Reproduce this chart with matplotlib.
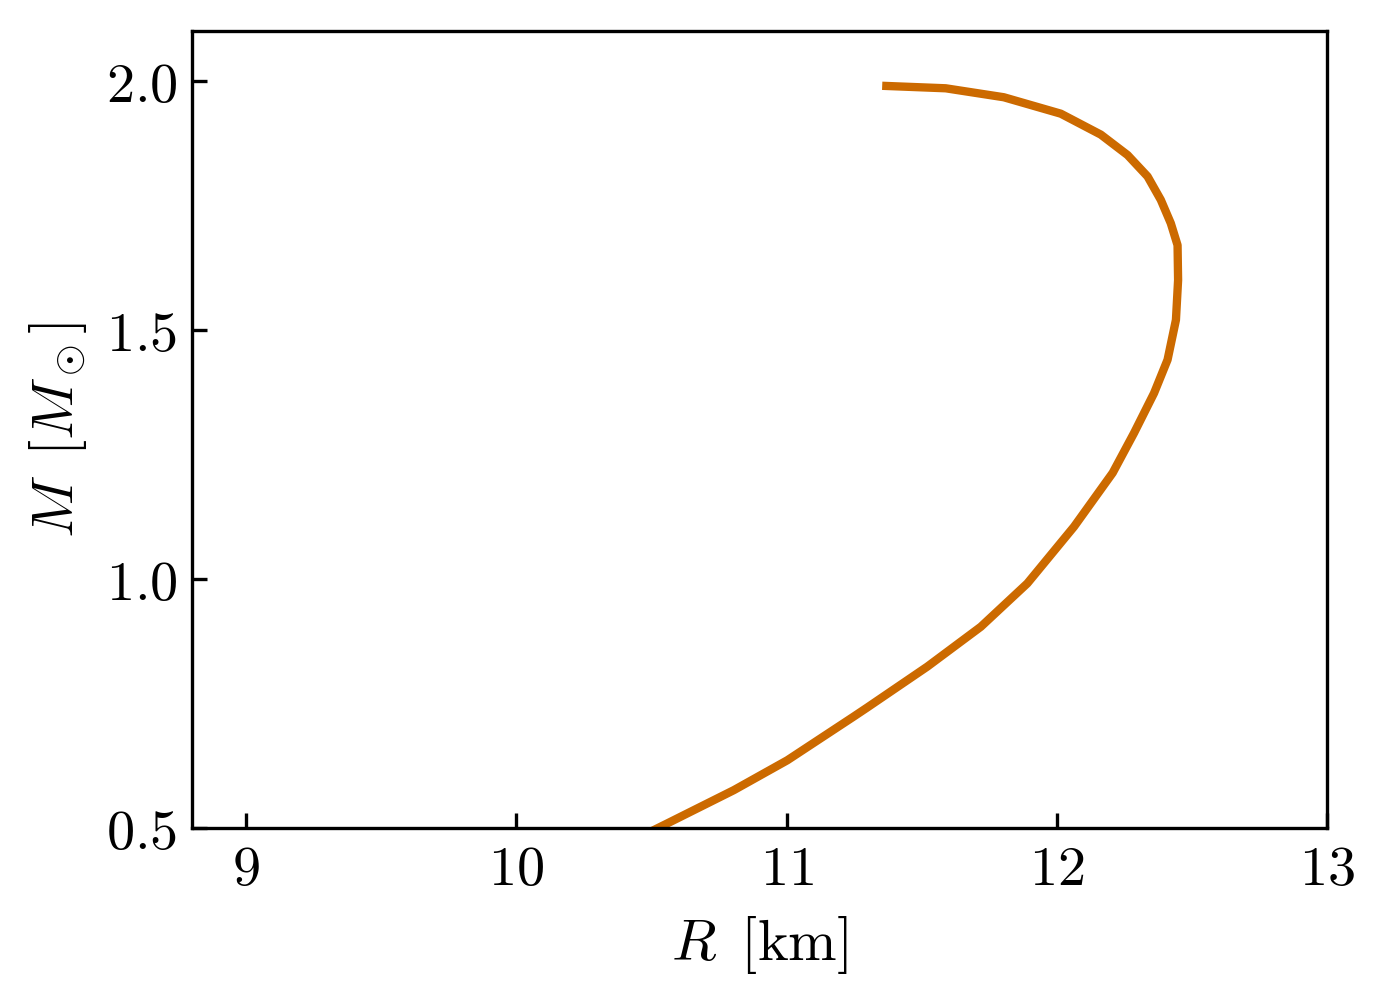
import matplotlib
matplotlib.use("Agg")
import matplotlib.pyplot as plt

plt.rcParams['mathtext.fontset'] = 'cm'
plt.rcParams['font.family'] = 'serif'
plt.rcParams['font.serif'] = ['DejaVu Serif']

# Mass-radius curve
R_km = [10.45, 10.558, 10.805, 11.003, 11.248, 11.299, 11.521, 11.719, 11.891,
        12.064, 12.207, 12.286, 12.360, 12.410, 12.441, 12.449, 12.447, 12.422,
        12.385, 12.336, 12.262, 12.163, 12.015, 11.804, 11.589, 11.354]
M_sun = [0.480, 0.509, 0.576, 0.636, 0.7235, 0.742, 0.824, 0.904, 0.991,
         1.105, 1.213, 1.293, 1.373, 1.440, 1.520, 1.600, 1.670, 1.714,
         1.761, 1.808, 1.851, 1.892, 1.934, 1.967, 1.985, 1.990]

xticks = [9, 10, 11, 12, 13]
xticklabels = [r'$9$', r'$10$', r'$11$', r'$12$', r'$13$']
yticks = [0.5, 1.0, 1.5, 2.0]
yticklabels = [r'$0.5$', r'$1.0$', r'$1.5$', r'$2.0$']

fig = plt.figure(figsize=(13.84/3, 9.99/3), dpi=300)
ax = fig.add_axes([192/1384, 1-828/999, (1327-192)/1384, (828-31)/999])

ax.plot(R_km, M_sun, color='#cc6a00', lw=2.0, solid_capstyle='butt',
        solid_joinstyle='round')

ax.set_xlim(8.8, 13.0)
ax.set_ylim(0.5, 2.1)
ax.set_xticks(xticks)
ax.set_xticklabels(xticklabels)
ax.set_yticks(yticks)
ax.set_yticklabels(yticklabels)
ax.tick_params(direction='in', labelsize=13.5, length=3.5, width=0.8)
ax.set_xlabel(r'$R\ \,[\mathrm{km}]$', fontsize=14, labelpad=4)
ax.set_ylabel(r'$M\ \,[M_\odot]$', fontsize=14, labelpad=4)

fig.savefig('out.png', dpi=300)
